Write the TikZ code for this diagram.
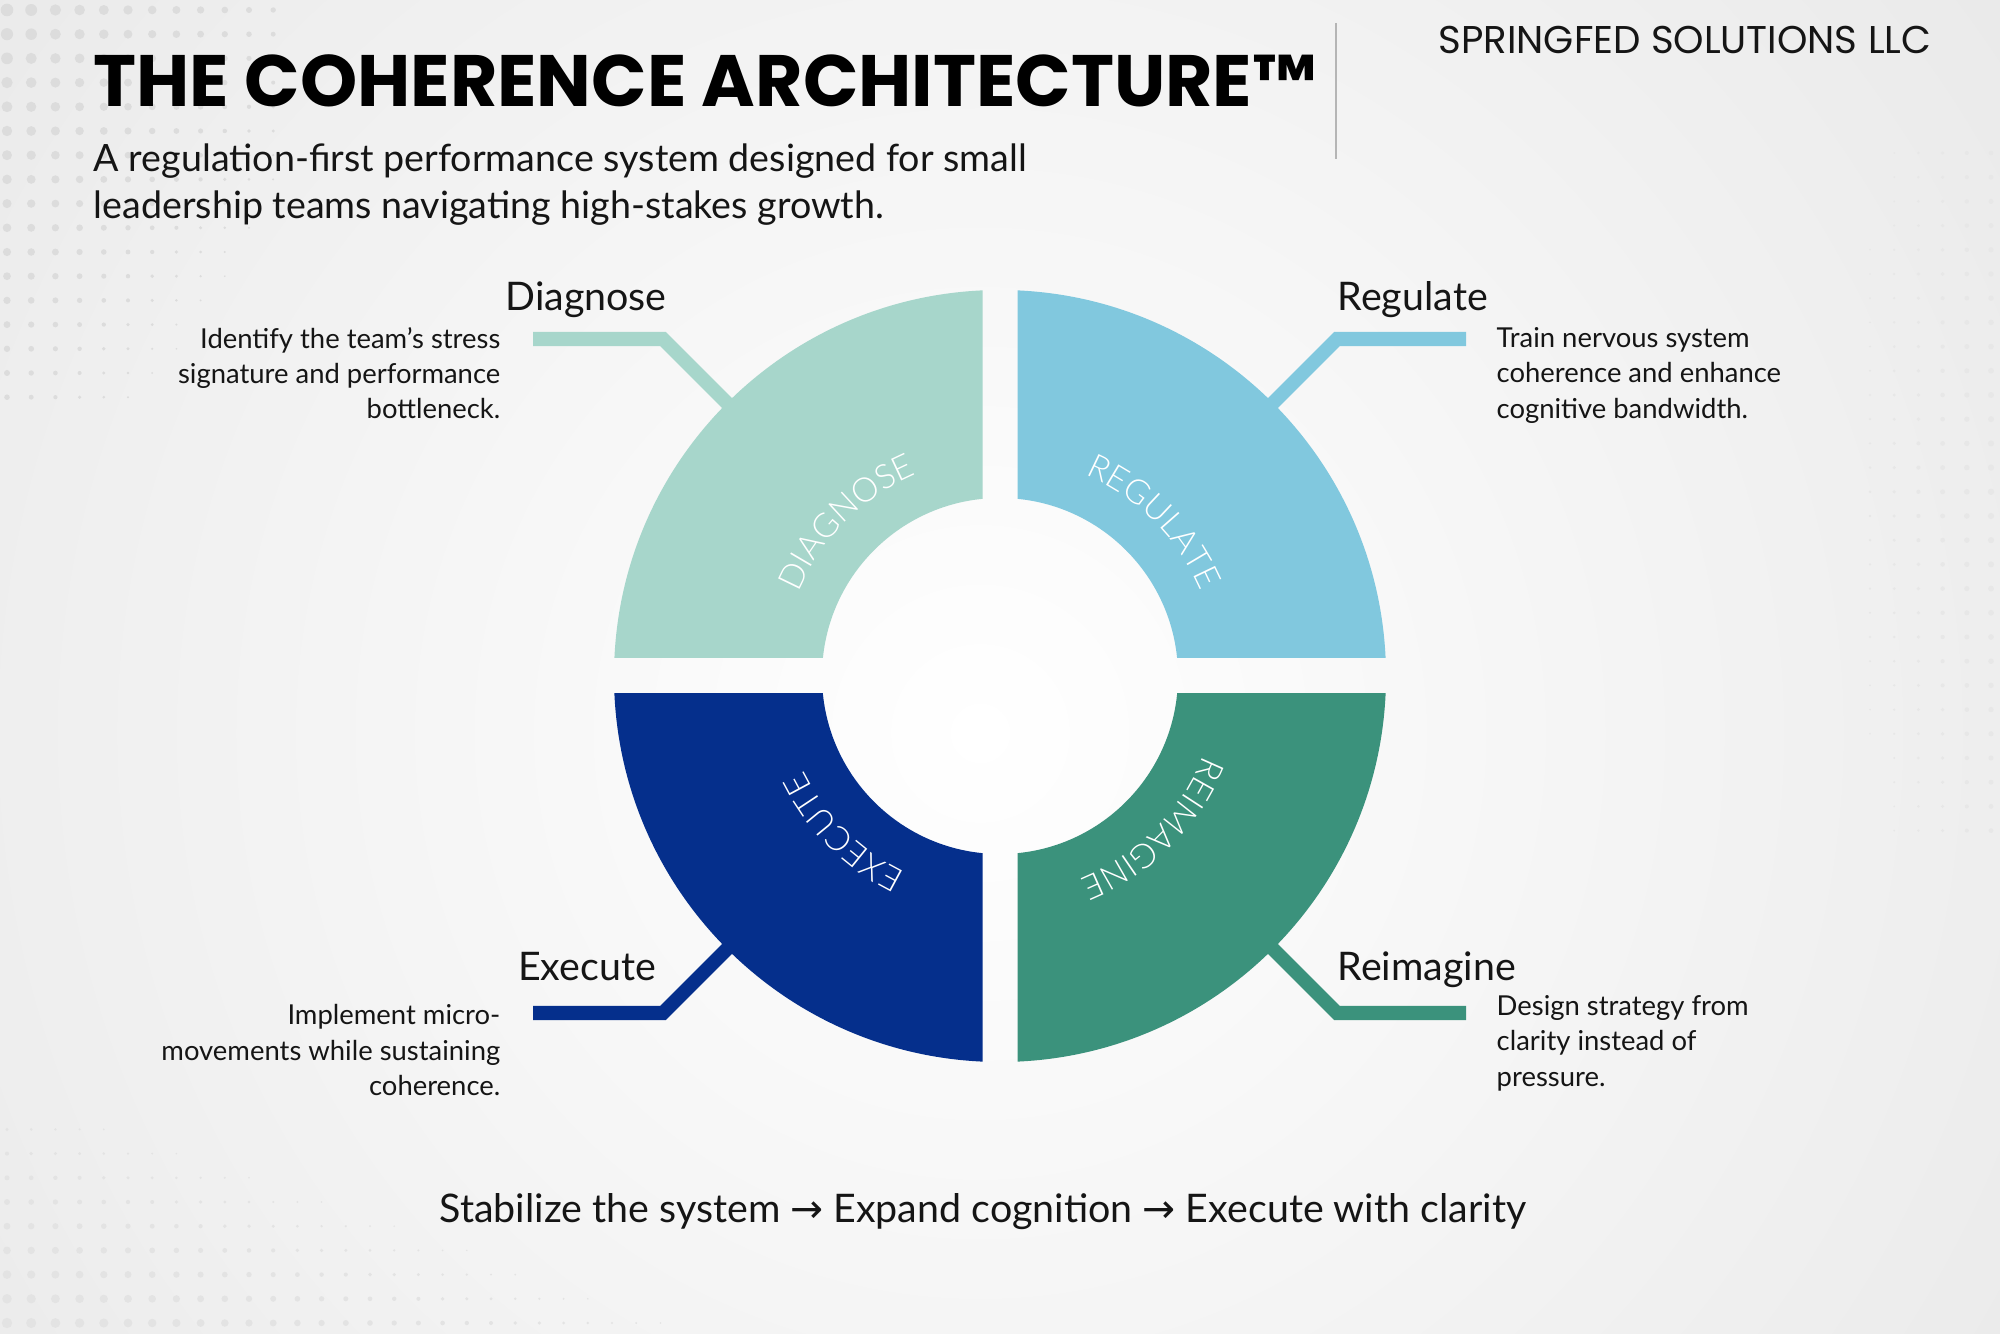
\documentclass[tikz,border=0pt]{standalone}
\usepackage{fontspec}
\setmainfont{Lato}
\newfontfamily\headfont{Poppins}
\newfontfamily\thinfont{Lato Light}
\newfontfamily\arrowfont{DejaVu Sans}
\usepackage{xcolor}
\definecolor{diagnosecol}{HTML}{A7D6CB}
\definecolor{regulatecol}{HTML}{81C8DE}
\definecolor{executecol}{HTML}{052F8C}
\definecolor{reimaginecol}{HTML}{3B927C}
\definecolor{inkblack}{HTML}{151515}
\definecolor{bggray}{HTML}{EAEAEA}
\definecolor{dotgray}{HTML}{DCDCDC}
\definecolor{rulegray}{HTML}{B5B5B5}
\usetikzlibrary{decorations.text}
\newcommand\ringfont{\fontsize{9.6}{11}\selectfont\thinfont}

\begin{document}
\begin{tikzpicture}[x=0.01cm,y=0.01cm,
  phase/.style={font=\fontsize{11.2}{13}\selectfont,text=inkblack,inner sep=0pt},
  blurb/.style={font=\fontsize{7.8}{10}\selectfont,text=inkblack,inner sep=0pt},
  conn/.style={line width=4pt},
  ringtext/.style={decorate,decoration={text along path,text align=center,
                   text color=white,text={|\ringfont|#1}}}]

  % background
  \fill[bggray] (0,0) rectangle (2000,1333);
  \begin{scope}
    \clip (0,0) rectangle (2000,1333);
    \shade[inner color=white,outer color=bggray] (980,600) circle (1250);
  \end{scope}
  \useasboundingbox (0,0) rectangle (2000,1333);

  % halftone dots
  \foreach \i in {0,...,11}
    \foreach \j in {0,...,16}{
      \pgfmathsetmacro\rr{6.3-0.33*\i-0.22*\j}
      \ifdim\rr pt>0.8pt
        \fill[dotgray] (7+24.2*\i,1323-24.2*\j) circle[radius=\rr];
      \fi}
  \foreach \i in {0,...,30}
    \foreach \j in {0,...,8}{
      \pgfmathsetmacro\rr{5.2-0.16*\i-0.45*\j}
      \ifdim\rr pt>0.8pt
        \fill[dotgray!80] (7+24.2*\i,10+24.2*\j) circle[radius=\rr];
      \fi}
  \foreach \i in {0,...,5}
    \foreach \j in {0,...,28}{
      \pgfmathsetmacro\rr{3.2-0.35*(5-\i)-0.06*abs(\j-14)}
      \ifdim\rr pt>0.8pt
        \fill[dotgray!70] (1870+24.2*\i,1180-24.2*\j) circle[radius=\rr];
      \fi}

  % header
  \node[anchor=base west,inner sep=0pt,text=black,
        font=\fontsize{20.7}{24}\selectfont\headfont\bfseries]
    (title) at (93,1226) {THE COHERENCE ARCHITECTURE™};
  \node[anchor=base east,inner sep=0pt,text=inkblack,
        font=\fontsize{11}{13}\selectfont\headfont]
    (firm) at (1932,1279) {SPRINGFED SOLUTIONS LLC};
  \coordinate (rule-top) at (1336,1310);
  \coordinate (rule-bot) at (1336,1174);
  \draw[rulegray,line width=0.6pt] (rule-top) -- (rule-bot);
  \node[anchor=north west,align=left,inner sep=0pt,text=inkblack,
        font=\fontsize{10.7}{13.4}\selectfont]
    (tagline) at (93,1190)
    {A regulation-first performance system designed for small\\
     leadership teams navigating high-stakes growth.};

  % connectors (drawn under the ring)
  \coordinate (hub) at (1000,657);
  \coordinate (diag-end)  at (533,994);  \coordinate (diag-knee)  at (663,994);
  \coordinate (diag-ring) at (740,917);
  \coordinate (reg-end)   at (1466,994); \coordinate (reg-knee)   at (1337,994);
  \coordinate (reg-ring)  at (1260,917);
  \coordinate (exec-end)  at (533,320);  \coordinate (exec-knee)  at (663,320);
  \coordinate (exec-ring) at (740,397);
  \coordinate (reim-end)  at (1466,320); \coordinate (reim-knee)  at (1337,320);
  \coordinate (reim-ring) at (1260,397);
  \draw[conn,diagnosecol]  (diag-end) -- (diag-knee) -- (diag-ring);
  \draw[conn,regulatecol]  (reg-end)  -- (reg-knee)  -- (reg-ring);
  \draw[conn,executecol]   (exec-end) -- (exec-knee) -- (exec-ring);
  \draw[conn,reimaginecol] (reim-end) -- (reim-knee) -- (reim-ring);

  % ring quadrants
  \foreach \qcol/\sx/\sy in {diagnosecol/-1/1,regulatecol/1/1,
                             executecol/-1/-1,reimaginecol/1/-1}{
    \begin{scope}
      \clip (1000+17.5*\sx,657+18*\sy) rectangle (1000+400*\sx,657+400*\sy);
      \fill[\qcol,even odd rule] (hub) circle[radius=386] (hub) circle[radius=178];
    \end{scope}}

  % ring labels
  \path[ringtext=DIAGNOSE]  (782,657)  arc[start angle=180,end angle=90,radius=218];
  \path[ringtext=REGULATE]  (1000,875) arc[start angle=90,end angle=0,radius=218];
  \path[ringtext=EXECUTE]   (1000,439) arc[start angle=270,end angle=180,radius=218];
  \path[ringtext=REIMAGINE] (1218,657) arc[start angle=0,end angle=-90,radius=218];

  % phase names and descriptions
  \node[phase,anchor=base]      (diag-name) at (586,1022)  {Diagnose};
  \node[phase,anchor=base west] (reg-name)  at (1337,1022) {Regulate};
  \node[phase,anchor=base]      (exec-name) at (587,353)   {Execute};
  \node[phase,anchor=base west] (reim-name) at (1337,353)  {Reimagine};
  \node[blurb,anchor=north east,align=right] (diag-text) at (501,1006)
    {Identify the team’s stress\\signature and performance\\bottleneck.};
  \node[blurb,anchor=north west,align=left]  (reg-text)  at (1496,1006)
    {Train nervous system\\coherence and enhance\\cognitive bandwidth.};
  \node[blurb,anchor=north east,align=right] (exec-text) at (501,329)
    {Implement micro-\\movements while sustaining\\coherence.};
  \node[blurb,anchor=north west,align=left]  (reim-text) at (1496,338)
    {Design strategy from\\clarity instead of\\pressure.};

  % footer
  \node[anchor=base,inner sep=0pt,text=inkblack,font=\fontsize{11.2}{14}\selectfont]
    (motto) at (983,111)
    {Stabilize the system {\arrowfont →} Expand cognition {\arrowfont →} Execute with clarity};
\end{tikzpicture}
\end{document}
